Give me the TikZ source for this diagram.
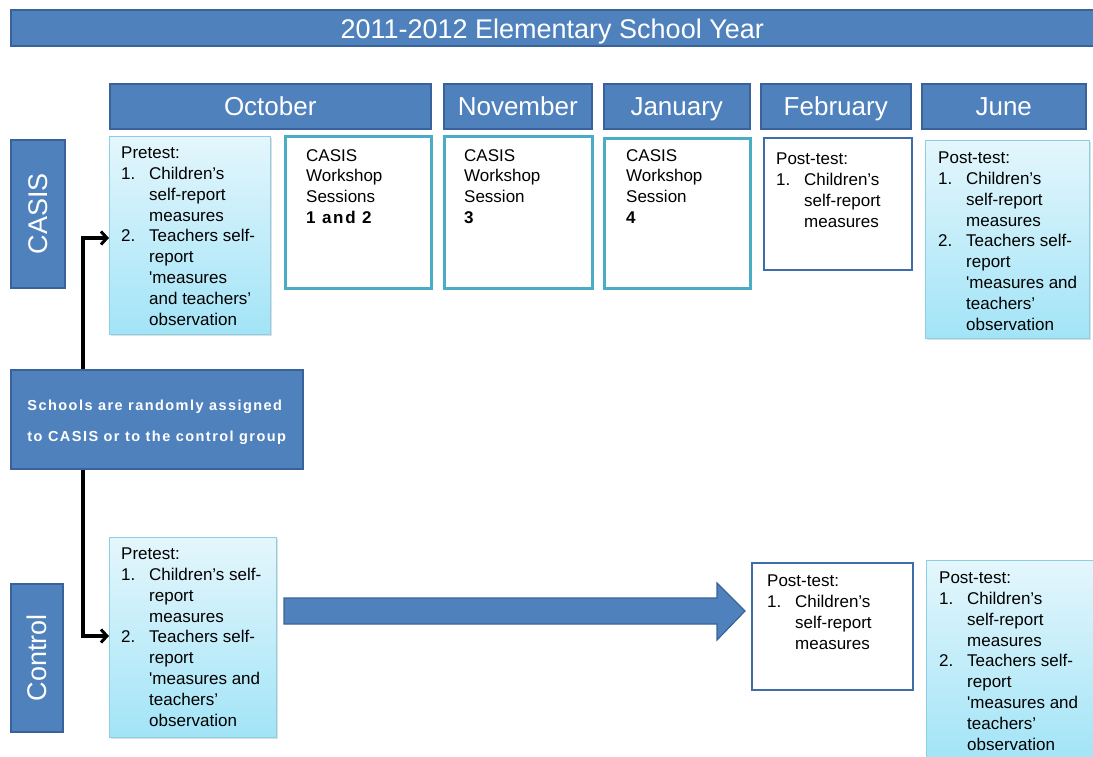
\documentclass[tikz,border=0pt]{standalone}
\usepackage{fontspec}
\setmainfont{Liberation Sans}
\usetikzlibrary{arrows.meta,shadows}
\definecolor{dblue}{HTML}{4F81BD}
\definecolor{dblueline}{HTML}{3A629A}
\definecolor{teal}{HTML}{4BACC6}
\definecolor{ltop}{HTML}{E4F6FC}
\definecolor{lbot}{HTML}{A2E4F7}
\definecolor{lline}{HTML}{8CCFE3}
\definecolor{pblue}{HTML}{3F6DAA}
\tikzset{
  darkbox/.style={draw=dblueline, line width=1.5pt, fill=dblue, anchor=north west, inner sep=0pt, text=white,
     font=\fontsize{26}{30}\selectfont, text height=18.6pt, text depth=0pt},
  gradbox/.style={draw=lline, line width=1pt, top color=ltop, bottom color=lbot, anchor=north west, inner sep=0pt,
     drop shadow={shadow xshift=1.5pt, shadow yshift=-1.5pt, opacity=0.25}},
  tealbox/.style={draw=teal, line width=2.5pt, fill=white, anchor=north west, inner sep=0pt},
  postbox/.style={draw=pblue, line width=2pt, fill=white, anchor=north west, inner sep=0pt},
  boxtext/.style={anchor=north west, inner sep=0pt, align=left, font=\fontsize{17}{20.8}\selectfont},
  conn/.style={line width=3.5pt, -{Straight Barb[length=6pt,width=13pt,line width=3pt]}},
}
\newcommand{\lst}[1]{\begin{tabular}{@{}p{28pt}@{}l@{}}#1\end{tabular}}
\newcommand{\hd}[1]{\multicolumn{2}{@{}l@{}}{#1}}
\newcommand{\sq}{\textquotesingle}
\begin{document}
\begin{tikzpicture}[x=1pt,y=-1pt]
\useasboundingbox (0,0) rectangle (1093,756);
% title
\node[darkbox, minimum width=1083, minimum height=36] (title) at (10,9) {};
\node[text=white, font=\fontsize{27}{30}\selectfont, text height=19.3pt, text depth=0pt] (titletext) at ([yshift=-1pt]title.center) {2011-2012 Elementary School Year};
% months
\node[darkbox, minimum width=321, minimum height=45] (oct) at (109,83) {October};
\node[darkbox, minimum width=148, minimum height=45] (nov) at (443,83) {November};
\node[darkbox, minimum width=146, minimum height=45] (jan) at (603,83) {January};
\node[darkbox, minimum width=150, minimum height=45] (feb) at (760,83) {February};
\node[darkbox, minimum width=164, minimum height=45] (jun) at (921,83) {June};
% side labels
\node[darkbox, minimum width=54, minimum height=148] (casis) at (10,139) {};
\node[text=white, rotate=90, font=\fontsize{27}{30}\selectfont] (casistext) at (casis.center) {CASIS};
\node[darkbox, minimum width=52, minimum height=148] (ctrl) at (10,583) {};
\node[text=white, rotate=90, font=\fontsize{27}{30}\selectfont] (ctrltext) at (ctrl.center) {Control};
% connectors
\coordinate (jx) at (83,418);
\draw[conn] (jx) |- (109,238) coordinate (a1);
\draw[conn] (jx) |- (109,636) coordinate (a2);
% schools box
\node[darkbox, minimum width=292, minimum height=99] (sch) at (10,369) {};
\node[text=white, align=left, font=\fontsize{14.5}{31}\selectfont\bfseries\addfontfeatures{LetterSpace=10}] (schtext) at ([yshift=-3pt]sch.center) {Schools are randomly assigned\\to CASIS or to the control group};
% CASIS row
\node[gradbox, minimum width=161, minimum height=198] (pre1) at (109,136) {};
\node[boxtext] (pre1t) at (121,144) {\lst{\hd{Pretest:}\\1. & Children's\\ & self-report\\ & measures\\2. & Teachers self-\\ & report\\ & \sq measures\\ & and teachers'\\ & observation}};
\node[tealbox, minimum width=146, minimum height=152] (ws1) at (284,135) {};
\node[boxtext] (ws1t) at (306,149) {CASIS\\Workshop\\Sessions\\{\bfseries\addfontfeatures{LetterSpace=10}1 and 2}};
\node[tealbox, minimum width=148, minimum height=152] (ws3) at (443,135) {};
\node[boxtext] (ws3t) at (464,149) {CASIS\\Workshop\\Session\\\textbf{3}};
\node[tealbox, minimum width=146, minimum height=150] (ws4) at (603,137) {};
\node[boxtext] (ws4t) at (626,149) {CASIS\\Workshop\\Session\\\textbf{4}};
\node[postbox, minimum width=148, minimum height=132] (post1) at (763,137) {};
\node[boxtext] (post1t) at (776,150) {\lst{\hd{Post-test:}\\1. & Children's\\ & self-report\\ & measures}};
\node[gradbox, minimum width=164, minimum height=198] (jun1) at (925,140) {};
\node[boxtext] (jun1t) at (938,149) {\lst{\hd{Post-test:}\\1. & Children's\\ & self-report\\ & measures\\2. & Teachers self-\\ & report\\ & \sq measures and\\ & teachers'\\ & observation}};
% Control row
\node[gradbox, minimum width=167, minimum height=200] (pre2) at (109,537) {};
\node[boxtext] (pre2t) at (121,545) {\lst{\hd{Pretest:}\\1. & Children's self-\\ & report\\ & measures\\2. & Teachers self-\\ & report\\ & \sq measures and\\ & teachers'\\ & observation}};
\draw[draw=dblueline, line width=1.2pt, fill=dblue] (284,598) -- (717,598) -- (717,583) -- (745,611) -- (717,640) -- (717,624) -- (284,624) -- cycle;
\node[postbox, minimum width=161, minimum height=127] (post2) at (751,562) {};
\node[boxtext] (post2t) at (767,572) {\lst{\hd{Post-test:}\\1. & Children's\\ & self-report\\ & measures}};
\node[gradbox, minimum width=167, minimum height=200] (jun2) at (926,560) {};
\node[boxtext] (jun2t) at (939,569) {\lst{\hd{Post-test:}\\1. & Children's\\ & self-report\\ & measures\\2. & Teachers self-\\ & report\\ & \sq measures and\\ & teachers'\\ & observation}};
\end{tikzpicture}
\end{document}
